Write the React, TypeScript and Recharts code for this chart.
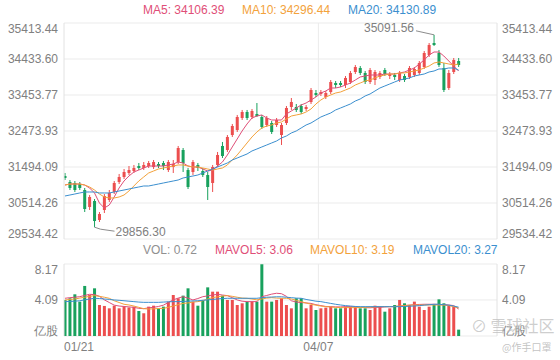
import React from "react";
import {
  ComposedChart,
  Bar,
  Line,
  XAxis,
  YAxis,
  CartesianGrid,
  ReferenceLine,
  ReferenceDot,
  Cell,
} from "recharts";

// 日K: 开/收/高/低 (81 根)
const opens = [
  31249, 31086, 31059, 31031, 30868, 30406, 30569, 30052, 30324, 30596,
  30814, 31086, 31222, 31331, 31385, 31521, 31467, 31521, 31494, 31576,
  31603, 31412, 31494, 31630, 31957, 31412, 31358, 31549, 31385, 31276,
  31059, 31549, 32066, 31957, 32365, 32501, 32828, 32991, 32855, 32937,
  32855, 32637, 32692, 32637, 32365, 32692, 33127, 33127, 33154, 33073,
  33263, 33508, 33481, 33399, 33535, 33780, 33780, 33726, 33808, 34080,
  34189, 34053, 33808, 33862, 33944, 34134, 33971, 33998, 33862, 33971,
  33944, 33998, 34053, 34216, 34543, 34869, 34597, 34189, 33644, 34080, 34379,
];
const closes = [
  31195, 30923, 30868, 30923, 30351, 30678, 30024, 30215, 30705, 30787,
  31059, 31222, 31358, 31412, 31467, 31467, 31549, 31603, 31630, 31521,
  31521, 31630, 31576, 32011, 31603, 30950, 31630, 31467, 31276, 30950,
  31494, 31821, 31794, 32311, 32610, 32855, 32991, 32828, 33018, 32882,
  32583, 32828, 32447, 32773, 32637, 33100, 33263, 33046, 32991, 33127,
  33590, 33454, 33535, 33508, 33808, 33726, 33726, 33917, 34053, 34216,
  34053, 33808, 34134, 34080, 34053, 34025, 34025, 33944, 34053, 33862,
  34189, 34162, 34325, 34597, 34815, 34815, 34270, 33590, 34053, 34406, 34270,
];
const highs = [
  31331, 31140, 31113, 31086, 30923, 30732, 30623, 30269, 30759, 30868,
  31113, 31304, 31440, 31521, 31549, 31603, 31630, 31658, 31685, 31630,
  31658, 31685, 31685, 32066, 32011, 31467, 31685, 31603, 31467, 31358,
  31549, 31903, 32175, 32365, 32665, 32910, 33046, 33046, 33073, 33236,
  32910, 32882, 32746, 32828, 32692, 33154, 33372, 33209, 33209, 33182,
  33644, 33590, 33590, 33563, 33862, 33835, 33835, 33971, 34107, 34270,
  34243, 34107, 34189, 34134, 34107, 34189, 34080, 34053, 34107, 34025,
  34243, 34216, 34379, 34651, 34869, 35091.56, 34679, 34325, 34134, 34461, 34461,
];
const lows = [
  31140, 30868, 30814, 30868, 30269, 30324, 29856.3, 29997, 30242, 30542,
  30759, 31031, 31168, 31276, 31331, 31412, 31412, 31467, 31440, 31467,
  31412, 31358, 31331, 31576, 31358, 30895, 31276, 31385, 31222, 30596,
  30814, 31494, 31739, 31903, 32311, 32447, 32773, 32773, 32801, 32855,
  32529, 32583, 32392, 32583, 32093, 32637, 33046, 32991, 32937, 33018,
  33209, 33399, 33427, 33345, 33481, 33644, 33672, 33644, 33753, 34025,
  33998, 33753, 33753, 33726, 33889, 33971, 33889, 33862, 33808, 33808,
  33889, 33944, 33998, 34162, 34488, 34788, 34216, 33535, 33590, 34025, 34216,
];

const ma5 = [
  31004, 31031, 31031, 31031, 31004, 30923, 30787, 30514, 30378, 30460,
  30678, 30923, 31113, 31249, 31358, 31412, 31467, 31521, 31521, 31521,
  31521, 31549, 31576, 31630, 31603, 31521, 31494, 31494, 31440, 31385,
  31412, 31521, 31630, 31821, 32039, 32256, 32474, 32665, 32828, 32882,
  32910, 32828, 32773, 32773, 32773, 32937, 33018, 33100, 33182, 33236,
  33318, 33399, 33508, 33563, 33644, 33644, 33672, 33726, 33780, 33862,
  33944, 33971, 33998, 33998, 33998, 34025, 34025, 34025, 34053, 34080,
  34134, 34189, 34298, 34406, 34543, 34624, 34624, 34515, 34379, 34243, 34106.39,
];
const ma10 = [
  31004, 31031, 31031, 31031, 31004, 30950, 30868, 30759, 30678, 30651,
  30651, 30678, 30732, 30841, 30977, 31113, 31222, 31331, 31385, 31440,
  31467, 31494, 31521, 31549, 31549, 31521, 31494, 31494, 31467, 31440,
  31412, 31440, 31467, 31549, 31685, 31821, 31984, 32148, 32311, 32447,
  32556, 32610, 32637, 32692, 32719, 32801, 32882, 32910, 32937, 32991,
  33073, 33209, 33318, 33399, 33454, 33508, 33535, 33590, 33644, 33726,
  33780, 33835, 33862, 33917, 33971, 33998, 34025, 34025, 34053, 34053,
  34080, 34107, 34134, 34189, 34243, 34325, 34352, 34325, 34298, 34270, 34296.44,
];
const ma20 = [
  30705, 30732, 30759, 30787, 30814, 30814, 30814, 30787, 30787, 30787,
  30814, 30841, 30868, 30895, 30923, 30950, 30977, 30977, 31004, 31031,
  31059, 31086, 31113, 31140, 31195, 31222, 31249, 31276, 31331, 31385,
  31440, 31494, 31549, 31603, 31685, 31739, 31794, 31848, 31930, 31984,
  32039, 32093, 32148, 32202, 32284, 32338, 32420, 32474, 32556, 32637,
  32692, 32773, 32855, 32910, 32964, 33046, 33100, 33154, 33209, 33290,
  33345, 33427, 33481, 33563, 33644, 33699, 33753, 33808, 33862, 33889,
  33917, 33971, 33998, 34025, 34080, 34107, 34162, 34162, 34189, 34189, 34130.89,
];

// 成交量 (亿股)
const volumes = [
  4.09, 4.28, 4.73, 3.9, 5.68, 4.65, 5.41, 3.52, 3.41, 3.14,
  3.44, 3.14, 3.33, 3.22, 3.33, 2.84, 2.58, 3.33, 3.44, 3.14,
  3.33, 3.9, 4.65, 4.28, 4.58, 5.41, 3.9, 3.44, 4.09, 5.52,
  5.03, 5.03, 4.58, 4.09, 4.09, 3.52, 3.71, 3.9, 3.9, 3.9,
  8.14, 3.9, 3.9, 4.09, 4.28, 3.52, 3.14, 4.28, 4.28, 3.14,
  3.52, 2.95, 3.14, 3.22, 3.33, 3.14, 3.14, 3.33, 3.33, 3.33,
  3.14, 3.14, 2.95, 3.44, 3.33, 2.76, 3.14, 3.52, 4.09, 3.71,
  3.52, 3.9, 3.33, 2.95, 3.33, 3.52, 4.16, 3.71, 3.52, 3.33, 0.72,
];
const mavol5 = [
  4.28, 4.35, 4.4, 4.46, 4.6, 4.73, 4.7, 4.5, 4.1, 3.8,
  3.5, 3.4, 3.35, 3.3, 3.25, 3.14, 3.1, 3.2, 3.25, 3.35,
  3.5, 3.8, 4.1, 4.3, 4.46, 4.3, 4.09, 4.25, 4.46, 4.55,
  4.65, 4.73, 4.65, 4.58, 4.35, 4.09, 3.95, 3.9, 3.9, 3.9,
  4.46, 4.6, 4.75, 4.85, 4.8, 4.5, 4.0, 3.85, 3.8, 3.75,
  3.7, 3.55, 3.45, 3.35, 3.33, 3.3, 3.3, 3.33, 3.33, 3.3,
  3.25, 3.22, 3.2, 3.25, 3.25, 3.3, 3.33, 3.33, 3.4, 3.45,
  3.5, 3.55, 3.58, 3.6, 3.6, 3.6, 3.58, 3.55, 3.52, 3.45, 3.06,
];
const mavol10 = [
  4.09, 4.15, 4.2, 4.3, 4.4, 4.5, 4.58, 4.5, 4.4, 4.28,
  4.0, 3.8, 3.6, 3.52, 3.4, 3.25, 3.1, 3.06, 3.08, 3.12,
  3.14, 3.25, 3.4, 3.55, 3.7, 3.75, 3.85, 3.9, 4.0, 4.2,
  4.35, 4.45, 4.52, 4.58, 4.5, 4.4, 4.3, 4.28, 4.2, 4.1,
  4.2, 4.3, 4.35, 4.3, 4.28, 4.28, 4.2, 4.05, 3.9, 3.75,
  3.6, 3.5, 3.4, 3.33, 3.3, 3.25, 3.22, 3.22, 3.22, 3.22,
  3.22, 3.25, 3.28, 3.3, 3.33, 3.33, 3.33, 3.35, 3.4, 3.45,
  3.5, 3.52, 3.52, 3.52, 3.52, 3.52, 3.52, 3.5, 3.45, 3.33, 3.19,
];
const mavol20 = [
  3.9, 3.92, 3.95, 4.0, 4.1, 4.2, 4.28, 4.25, 4.2, 4.15,
  4.09, 4.05, 4.0, 3.95, 3.9, 3.85, 3.82, 3.82, 3.82, 3.82,
  3.85, 3.88, 3.9, 3.9, 3.92, 3.95, 3.98, 4.0, 4.05, 4.1,
  4.15, 4.2, 4.25, 4.28, 4.28, 4.28, 4.28, 4.28, 4.28, 4.28,
  4.35, 4.4, 4.42, 4.45, 4.45, 4.4, 4.35, 4.3, 4.28, 4.15,
  4.05, 3.95, 3.9, 3.8, 3.7, 3.6, 3.52, 3.45, 3.4, 3.35,
  3.33, 3.33, 3.33, 3.33, 3.33, 3.33, 3.33, 3.33, 3.33, 3.35,
  3.38, 3.4, 3.45, 3.5, 3.55, 3.6, 3.6, 3.55, 3.5, 3.4, 3.27,
];

const priceTicks = [29534.42, 30514.26, 31494.09, 32473.93, 33453.77, 34433.6, 35413.44];
const volTicks = [0, 4.09, 8.17];
const dateLabels = ["01/21", "04/07"];
const dateIndex = [0, 52];

// x 轴共 88 个槽位,右侧留空
const X_MIN = -0.2;
const X_MAX = 87.8;

const C = {
  up: "#ec4e4e",
  down: "#18a15d",
  ma5: "#df4f78",
  ma10: "#f3a23b",
  ma20: "#3b8fcf",
  grid: "#ebebeb",
  axis: "#e2e2e2",
  text: "#808080",
  vol: "#909090",
};

const FONT = "'Liberation Sans', Arial, sans-serif";

const data = opens.map((o, i) => ({
  i,
  open: o,
  close: closes[i],
  high: highs[i],
  low: lows[i],
  vol: volumes[i],
  ma5: ma5[i],
  ma10: ma10[i],
  ma20: ma20[i],
  mavol5: mavol5[i],
  mavol10: mavol10[i],
  mavol20: mavol20[i],
}));

const last = data.length - 1;
const maxIdx = highs.indexOf(Math.max(...highs));
const minIdx = lows.indexOf(Math.min(...lows));

// 蜡烛:range bar [low, high],实体按比例换算
function Candle(props: any) {
  const { x, y, width, height, payload } = props;
  const { open, close, high, low } = payload;
  const col = close >= open ? C.up : C.down;
  const k = height / (high - low || 1);
  const top = y + (high - Math.max(open, close)) * k;
  const bot = y + (high - Math.min(open, close)) * k;
  const cx = x + width / 2;
  return (
    <g>
      <line x1={cx} x2={cx} y1={y} y2={y + height} stroke={col} strokeWidth={1} />
      <rect x={x} y={top} width={width} height={Math.max(bot - top, 1)} fill={col} />
    </g>
  );
}

function makeTick(anchor: "start" | "end", min: number, max: number, fmt: (v: number) => string) {
  return (props: any) => {
    const { x, y, payload } = props;
    const v = payload.value;
    let dy = 4;
    if (v === max) dy += 6;
    if (v === min) dy -= 5;
    return (
      <text x={x} y={y + dy} textAnchor={anchor} fill={C.text} fontSize={12} fontFamily={FONT}>
        {fmt(v)}
      </text>
    );
  };
}

const priceFmt = (v: number) => v.toFixed(2);
const volFmt = (v: number) => (v === 0 ? "亿股" : v.toFixed(2));

function DateTick(props: any) {
  const { x, y, index } = props;
  return (
    <text
      x={x}
      y={y + 15}
      textAnchor={index === 0 ? "start" : "middle"}
      fill={C.text}
      fontSize={12}
      fontFamily={FONT}
    >
      {dateLabels[index]}
    </text>
  );
}

function MaxMark(props: any) {
  const { cx, cy } = props;
  return (
    <g>
      <polyline points={`${cx},${cy} ${cx - 18},${cy - 4}`} fill="none" stroke="#8c8c8c" />
      <text x={cx - 20} y={cy - 3} textAnchor="end" fill={C.text} fontSize={12} fontFamily={FONT}>
        {highs[maxIdx].toFixed(2)}
      </text>
    </g>
  );
}

function MinMark(props: any) {
  const { cx, cy } = props;
  return (
    <g>
      <polyline
        points={`${cx},${cy} ${cx + 6},${cy + 2} ${cx + 20},${cy + 4}`}
        fill="none"
        stroke="#8c8c8c"
      />
      <text x={cx + 21} y={cy + 9} textAnchor="start" fill={C.text} fontSize={12} fontFamily={FONT}>
        {lows[minIdx].toFixed(2)}
      </text>
    </g>
  );
}

function Legend({ top, items }: { top: number; items: { left: number; text: string; color: string }[] }) {
  return (
    <>
      {items.map((it) => (
        <div
          key={it.text}
          style={{
            position: "absolute",
            left: it.left,
            top,
            fontSize: 12,
            lineHeight: "14px",
            color: it.color,
            whiteSpace: "nowrap",
            fontFamily: FONT,
          }}
        >
          {it.text}
        </div>
      ))}
    </>
  );
}

export default function App() {
  const pMin = priceTicks[0];
  const pMax = priceTicks[priceTicks.length - 1];
  const vMax = volTicks[volTicks.length - 1];
  const dateTicks = dateIndex.map((i) => Math.max(i - 0.5, X_MIN));

  return (
    <div
      style={{
        position: "absolute",
        left: 0,
        top: 0,
        width: 560,
        height: 360,
        background: "#fff",
        overflow: "hidden",
        fontFamily: FONT,
      }}
    >
      <Legend
        top={3}
        items={[
          { left: 143, text: `MA5: ${ma5[last].toFixed(2)}`, color: C.ma5 },
          { left: 242, text: `MA10: ${ma10[last].toFixed(2)}`, color: C.ma10 },
          { left: 348, text: `MA20: ${ma20[last].toFixed(2)}`, color: C.ma20 },
        ]}
      />
      <div style={{ position: "absolute", left: 0, top: 0 }}>
        <ComposedChart width={560} height={245} data={data} margin={{ top: 23, right: 0, bottom: 6, left: 0 }}>
          <CartesianGrid yAxisId="l" horizontal vertical={false} stroke={C.grid} />
          <XAxis type="number" dataKey="i" domain={[X_MIN, X_MAX]} allowDataOverflow hide />
          <YAxis
            yAxisId="l"
            orientation="left"
            width={64}
            domain={[pMin, pMax]}
            ticks={priceTicks}
            interval={0}
            allowDataOverflow
            axisLine={{ stroke: C.axis }}
            tickLine={false}
            tickSize={0}
            tickMargin={6}
            tick={makeTick("end", pMin, pMax, priceFmt)}
          />
          <YAxis
            yAxisId="r"
            orientation="right"
            width={63}
            domain={[pMin, pMax]}
            ticks={priceTicks}
            interval={0}
            allowDataOverflow
            axisLine={{ stroke: C.axis }}
            tickLine={false}
            tickSize={0}
            tickMargin={5}
            tick={makeTick("start", pMin, pMax, priceFmt)}
          />
          <ReferenceLine yAxisId="l" x={dateTicks[1]} stroke={C.grid} />
          <Bar
            yAxisId="l"
            dataKey={(d: any) => [d.low, d.high]}
            barSize={3}
            shape={Candle}
            isAnimationActive={false}
          />
          <Line yAxisId="l" type="linear" dataKey="ma5" stroke={C.ma5} strokeWidth={1} dot={false} activeDot={false} isAnimationActive={false} />
          <Line yAxisId="l" type="linear" dataKey="ma10" stroke={C.ma10} strokeWidth={1} dot={false} activeDot={false} isAnimationActive={false} />
          <Line yAxisId="l" type="linear" dataKey="ma20" stroke={C.ma20} strokeWidth={1} dot={false} activeDot={false} isAnimationActive={false} />
          <ReferenceDot yAxisId="l" x={maxIdx} y={highs[maxIdx]} r={1} shape={MaxMark} />
          <ReferenceDot yAxisId="l" x={minIdx} y={lows[minIdx]} r={1} shape={MinMark} />
        </ComposedChart>
      </div>

      <Legend
        top={243}
        items={[
          { left: 143, text: `VOL: ${volumes[last].toFixed(2)}`, color: C.vol },
          { left: 215, text: `MAVOL5: ${mavol5[last].toFixed(2)}`, color: C.ma5 },
          { left: 310, text: `MAVOL10: ${mavol10[last].toFixed(2)}`, color: C.ma10 },
          { left: 413, text: `MAVOL20: ${mavol20[last].toFixed(2)}`, color: C.ma20 },
        ]}
      />
      <div style={{ position: "absolute", left: 0, top: 240 }}>
        <ComposedChart width={560} height={120} data={data} margin={{ top: 24, right: 0, bottom: 0, left: 0 }}>
          <CartesianGrid yAxisId="l" horizontal vertical={false} stroke={C.grid} />
          <XAxis
            type="number"
            dataKey="i"
            domain={[X_MIN, X_MAX]}
            allowDataOverflow
            ticks={dateTicks}
            height={24}
            axisLine={false}
            tickLine={false}
            tickSize={0}
            tickMargin={0}
            tick={DateTick}
            interval={0}
          />
          <YAxis
            yAxisId="l"
            orientation="left"
            width={64}
            domain={[0, vMax]}
            ticks={volTicks}
            interval={0}
            allowDataOverflow
            axisLine={{ stroke: C.axis }}
            tickLine={false}
            tickSize={0}
            tickMargin={6}
            tick={makeTick("end", 0, vMax, volFmt)}
          />
          <YAxis
            yAxisId="r"
            orientation="right"
            width={63}
            domain={[0, vMax]}
            ticks={volTicks}
            interval={0}
            allowDataOverflow
            axisLine={{ stroke: C.axis }}
            tickLine={false}
            tickSize={0}
            tickMargin={5}
            tick={makeTick("start", 0, vMax, volFmt)}
          />
          <ReferenceLine yAxisId="l" x={dateTicks[1]} stroke={C.grid} />
          <Bar yAxisId="l" dataKey="vol" barSize={3} isAnimationActive={false}>
            {data.map((d) => (
              <Cell key={d.i} fill={d.close >= d.open ? C.up : C.down} />
            ))}
          </Bar>
          <Line yAxisId="l" type="linear" dataKey="mavol5" stroke={C.ma5} strokeWidth={1} dot={false} activeDot={false} isAnimationActive={false} />
          <Line yAxisId="l" type="linear" dataKey="mavol10" stroke={C.ma10} strokeWidth={1} dot={false} activeDot={false} isAnimationActive={false} />
          <Line yAxisId="l" type="linear" dataKey="mavol20" stroke={C.ma20} strokeWidth={1} dot={false} activeDot={false} isAnimationActive={false} />
        </ComposedChart>
      </div>

      {/* 水印 */}
      <div
        style={{
          position: "absolute",
          left: 471,
          top: 316,
          color: "rgba(190,190,190,0.75)",
          fontSize: 16,
          fontFamily: "'Noto Sans CJK SC', sans-serif",
          whiteSpace: "nowrap",
          lineHeight: "18px",
        }}
      >
        ⊘ 雪球社区
      </div>
      <div
        style={{
          position: "absolute",
          left: 502,
          top: 341,
          color: "rgba(180,180,180,0.8)",
          fontSize: 10,
          fontFamily: "'Noto Sans CJK SC', sans-serif",
          whiteSpace: "nowrap",
          lineHeight: "12px",
        }}
      >
        @作手口罩
      </div>
    </div>
  );
}
